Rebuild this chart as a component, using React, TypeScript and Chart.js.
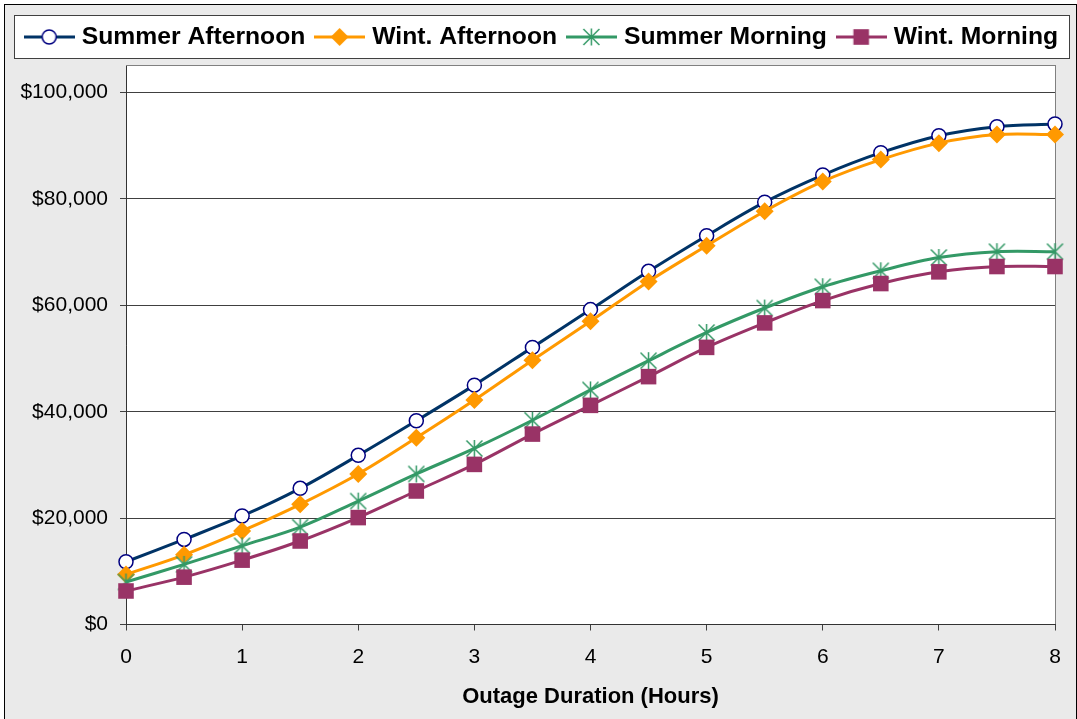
import React, { useEffect, useRef } from 'react';
import { Chart, registerables } from 'chart.js';

Chart.register(...registerables);

const FONT = '"Liberation Sans", Arial, Helvetica, sans-serif';

// ---- data ----
const hours = [0, 0.5, 1, 1.5, 2, 2.5, 3, 3.5, 4, 4.5, 5, 5.5, 6, 6.5, 7, 7.5, 8];
const summerAfternoon = [11800, 16000, 20400, 25600, 31800, 38300, 45000, 52100, 59200, 66400, 73100, 79400, 84500, 88700, 91900, 93600, 94100];
const wintAfternoon = [9400, 13100, 17600, 22600, 28300, 35100, 42200, 49700, 57000, 64500, 71200, 77700, 83300, 87400, 90500, 92100, 92100];
const summerMorning = [8000, 11300, 14800, 18300, 23200, 28300, 33100, 38400, 44100, 49600, 54900, 59500, 63500, 66500, 69000, 70100, 70100];
const wintMorning = [6300, 8900, 12100, 15700, 20100, 25100, 30100, 35800, 41200, 46600, 52100, 56700, 60900, 64100, 66300, 67300, 67300];
const seriesNames = ['Summer Afternoon', 'Wint. Afternoon', 'Summer Morning', 'Wint. Morning'];
const seriesValues = [summerAfternoon, wintAfternoon, summerMorning, wintMorning];
const yTicks = [0, 20000, 40000, 60000, 80000, 100000];
const xTitle = 'Outage Duration (Hours)';

// ---- styles ----
const lineColors = ['#003366', '#FF9900', '#339966', '#993366'];
const markerKinds = ['circle', 'diamond', 'asterisk', 'square'];

function drawAsterisk(ctx: CanvasRenderingContext2D, cx: number, cy: number, color: string) {
  const h = 8;
  ctx.save();
  ctx.strokeStyle = color;
  ctx.lineWidth = 1.5;
  ctx.beginPath();
  ctx.moveTo(cx - h, cy - h);
  ctx.lineTo(cx + h, cy + h);
  ctx.moveTo(cx + h, cy - h);
  ctx.lineTo(cx - h, cy + h);
  ctx.moveTo(cx, cy - h - 0.5);
  ctx.lineTo(cx, cy + h + 0.5);
  ctx.stroke();
  ctx.restore();
}

function drawMarker(ctx: CanvasRenderingContext2D, kind: string, cx: number, cy: number, color: string) {
  ctx.save();
  if (kind === 'circle') {
    ctx.beginPath();
    ctx.arc(cx, cy, 7, 0, Math.PI * 2);
    ctx.fillStyle = '#ffffff';
    ctx.fill();
    ctx.lineWidth = 1.5;
    ctx.strokeStyle = '#000080';
    ctx.stroke();
  } else if (kind === 'diamond') {
    ctx.beginPath();
    ctx.moveTo(cx, cy - 9);
    ctx.lineTo(cx + 9, cy);
    ctx.lineTo(cx, cy + 9);
    ctx.lineTo(cx - 9, cy);
    ctx.closePath();
    ctx.fillStyle = color;
    ctx.fill();
  } else if (kind === 'asterisk') {
    drawAsterisk(ctx, cx, cy, color);
  } else {
    ctx.fillStyle = color;
    ctx.fillRect(cx - 7.8, cy - 7.8, 15.6, 15.6);
  }
  ctx.restore();
}

function makeAsteriskCanvas(color: string) {
  const c = document.createElement('canvas');
  c.width = 19;
  c.height = 19;
  const ctx = c.getContext('2d')!;
  drawAsterisk(ctx, 9.5, 9.5, color);
  return c;
}

function makeLegendCanvas(kind: string, color: string) {
  const c = document.createElement('canvas');
  c.width = 51;
  c.height = 22;
  const ctx = c.getContext('2d')!;
  ctx.strokeStyle = color;
  ctx.lineWidth = 3;
  ctx.beginPath();
  ctx.moveTo(0, 11);
  ctx.lineTo(51, 11);
  ctx.stroke();
  drawMarker(ctx, kind, 25.5, 11, color);
  return c;
}

const framePlugin = {
  id: 'frame',
  beforeDraw(chart: any) {
    const { ctx, width, height, chartArea: a } = chart;
    ctx.save();
    ctx.fillStyle = '#ffffff';
    ctx.fillRect(0, 0, width, height);
    ctx.fillStyle = '#EAEAEA';
    ctx.fillRect(4, 4, width - 4, height);
    ctx.strokeStyle = '#000000';
    ctx.lineWidth = 1;
    ctx.strokeRect(4.5, 4.5, width - 5, height + 10);
    // legend box
    const lg = chart.legend;
    const lx = lg.left + 4.5;
    const ly = Math.round(lg.top + 4) + 0.5;
    const lw = lg.right - 7.5 - lx;
    const lh = Math.round(lg.bottom - 1) - ly + 0.5;
    ctx.fillStyle = '#ffffff';
    ctx.fillRect(lx, ly, lw, lh);
    ctx.strokeStyle = '#404040';
    ctx.strokeRect(lx, ly, lw, lh);
    // plot area
    ctx.fillStyle = '#ffffff';
    ctx.fillRect(a.left, a.top, a.right - a.left, a.bottom - a.top);
    ctx.strokeStyle = '#808080';
    ctx.strokeRect(Math.round(a.left) + 0.5, Math.round(a.top) - 0.5, Math.round(a.right - a.left), Math.round(a.bottom - a.top));
    ctx.restore();
  },
};

export default function App() {
  const ref = useRef<HTMLCanvasElement>(null);

  useEffect(() => {
    if (!ref.current) return;
    Chart.defaults.font.family = FONT;
    const asterisk = makeAsteriskCanvas(lineColors[2]);
    const legendImages = markerKinds.map((k, i) => makeLegendCanvas(k, lineColors[i]));
    const pointStyles: any[] = ['circle', 'rectRot', asterisk, 'rect'];
    const pointRadii = [7, 9, 9, 11];
    const pointBg = ['#ffffff', lineColors[1], lineColors[2], lineColors[3]];
    const pointBorder = ['#000080', lineColors[1], lineColors[2], lineColors[3]];
    const pointBorderW = [1.5, 0, 0, 0];

    const chart = new Chart(ref.current, {
      type: 'line',
      data: {
        datasets: seriesNames.map((name, i) => ({
          label: name,
          data: hours.map((h, j) => ({ x: h, y: seriesValues[i][j] })),
          borderColor: lineColors[i],
          backgroundColor: lineColors[i],
          borderWidth: 3,
          tension: 0.35,
          fill: false,
          clip: false as any,
          order: 3 - i,
          pointStyle: pointStyles[i],
          pointRadius: pointRadii[i],
          pointHoverRadius: pointRadii[i],
          pointBackgroundColor: pointBg[i],
          pointBorderColor: pointBorder[i],
          pointBorderWidth: pointBorderW[i],
        })),
      },
      options: {
        responsive: false,
        animation: false,
        events: [],
        layout: { padding: { top: 10.65, left: 10, right: 0, bottom: 6.9 } },
        plugins: {
          legend: {
            display: true,
            position: 'top',
            labels: {
              usePointStyle: true,
              pointStyleWidth: 40.5,
              padding: 14,
              color: '#000000',
              font: { family: FONT, size: 24.7, weight: 'bold' },
              generateLabels: () =>
                seriesNames.map((name, i) => ({
                  text: name,
                  fillStyle: lineColors[i],
                  strokeStyle: lineColors[i],
                  lineWidth: 0,
                  pointStyle: legendImages[i] as any,
                  hidden: false,
                  datasetIndex: i,
                  fontColor: '#000000',
                })),
            },
          },
          subtitle: {
            display: true,
            text: '',
            weight: 500,
            position: 'top',
            font: { size: 1, lineHeight: 1 },
            padding: { top: 5.65, bottom: 0 },
          } as any,
          title: { display: false },
          tooltip: { enabled: false },
        },
        scales: {
          x: {
            type: 'linear',
            min: 0,
            max: 8,
            ticks: {
              stepSize: 1,
              color: '#000000',
              font: { family: FONT, size: 21 },
              padding: 14,
              maxRotation: 0,
              autoSkip: false,
            },
            grid: { drawOnChartArea: false, drawTicks: true, tickLength: 6, color: '#404040', lineWidth: 1 },
            border: { color: '#333333', width: 1 },
            title: {
              display: true,
              text: xTitle,
              color: '#000000',
              font: { family: FONT, size: 22, weight: 'bold' },
              padding: { top: 0, bottom: 2 },
            },
          },
          y: {
            type: 'linear',
            min: 0,
            max: 105000,
            afterBuildTicks: (s: any) => {
              s.ticks = yTicks.map((v) => ({ value: v }));
            },
            afterFit: (s: any) => {
              s.width = 116;
            },
            ticks: {
              color: '#000000',
              font: { family: FONT, size: 21 },
              padding: 12,
              callback: (v: any) => '$' + Number(v).toLocaleString('en-US'),
            },
            grid: { color: '#404040', lineWidth: 1, tickLength: 6 },
            border: { color: '#333333', width: 1 },
          },
          y2: {
            type: 'linear',
            position: 'right',
            display: true,
            grid: { display: false },
            ticks: { display: false },
            border: { display: false },
            afterFit: (s: any) => {
              s.width = 22;
            },
          },
        },
      } as any,
      plugins: [framePlugin],
    });
    return () => chart.destroy();
  }, []);

  return (
    <div style={{ position: 'fixed', left: 0, top: 0, width: 1077, height: 719 }}>
      <canvas ref={ref} width={1077} height={719} style={{ width: 1077, height: 719, display: 'block' }} />
    </div>
  );
}
